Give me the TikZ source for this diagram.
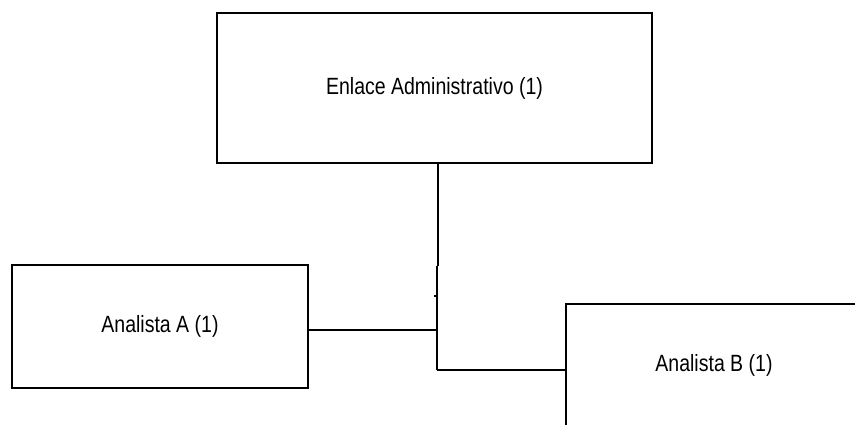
\documentclass[tikz,border=0pt]{standalone}
\usepackage{fontspec}
\setmainfont[FakeStretch=0.83]{Liberation Sans}
\begin{document}
\begin{tikzpicture}[x=1pt,y=-1pt,
  box/.style={draw, line width=2pt, inner sep=0pt, font=\fontsize{23.5}{28}\selectfont},
  conn/.style={line width=2pt}]
\clip (0,0) rectangle (855,424);
\fill[white] (0,0) rectangle (855,424);

% organisation boxes
\node[box, minimum width=435pt, minimum height=150pt] (enlace) at (434.5,88) {Enlace Administrativo (1)};
\node[box, minimum width=296pt, minimum height=123pt] (anaA) at (160,326.5) {Analista A (1)};
\node[box, minimum width=296pt, minimum height=122pt] (anaB) at (714,365) {Analista B (1)};

% junction points of the connector tree
\coordinate (upper) at (437.5,266);
\coordinate (hub) at (436.5,266);
\coordinate (tapA) at (436.5,329.5);
\coordinate (elbow) at (436.5,370);

% connectors
\draw[conn] (enlace.south -| upper) -- (upper);
\draw[conn] (hub) -- (elbow);
\draw[conn] (anaA.east |- tapA) -- (tapA);
\draw[conn] (elbow) -- (anaB.west |- elbow);
\draw[line width=1.2pt] (434,296) -- (436.5,296);
\end{tikzpicture}
\end{document}
